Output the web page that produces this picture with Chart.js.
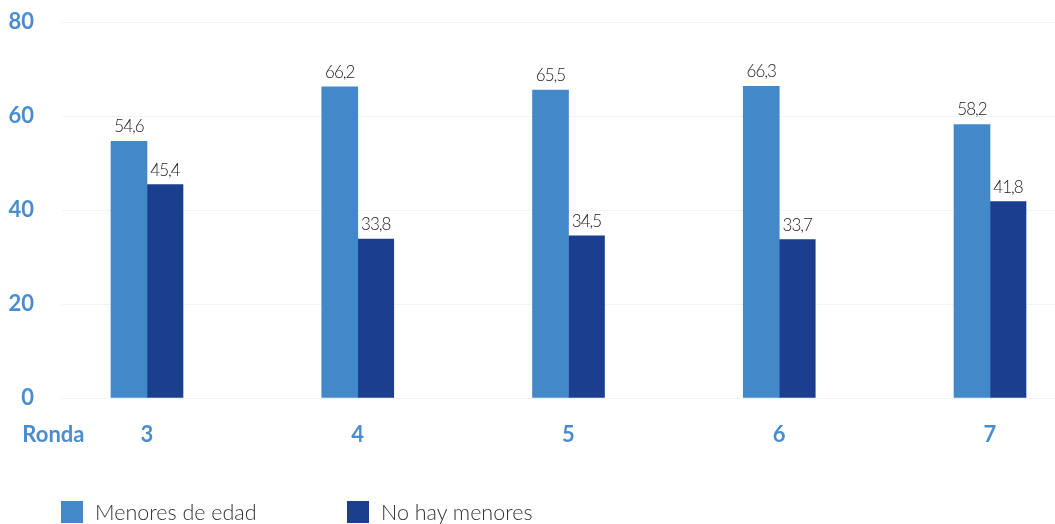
<!DOCTYPE html>
<html lang="es">
<head>
<meta charset="utf-8">
<title>Menores de edad por ronda</title>
<script src="https://cdn.jsdelivr.net/npm/chart.js@4"></script>
<style>
    html, body { margin: 0; padding: 0; background: #fff; }
    #wrap { position: relative; width: 1055px; height: 524px; }
    #leyenda { position: absolute; left: 0; top: 499px; font: 300 21.5px Lato, sans-serif; color: #333; }
    .item { position: absolute; top: 0; display: flex; align-items: center; white-space: nowrap; }
    .item span.caja { width: 22px; height: 22px; margin-right: 12px; }
</style>
</head>
<body>
<div id="wrap">
    <canvas id="grafico"></canvas>
    <div id="leyenda"></div>
</div>
<script>
// datos por ronda
const rondas = [3, 4, 5, 6, 7];
const menoresDeEdad = [54.6, 66.2, 65.5, 66.3, 58.2];
const noHayMenores = [45.4, 33.8, 34.5, 33.7, 41.8];
const etiquetasSeries = ['Menores de edad', 'No hay menores'];
const ticksY = [0, 20, 40, 60, 80];
const tituloEje = 'Ronda';

const azulClaro = '#4388c8';
const azulOscuro = '#1c3e8e';
const azulTexto = '#4a8dcf';

// etiquetas con el valor encima de cada barra
const etiquetasValor = {
    id: 'etiquetasValor',
    afterDatasetsDraw(chart) {
        const ctx = chart.ctx;
        ctx.save();
        ctx.font = '300 17px Lato, sans-serif';
        ctx.letterSpacing = '-1px';
        ctx.fillStyle = '#222';
        ctx.textAlign = 'center';
        ctx.textBaseline = 'alphabetic';
        chart.data.datasets.forEach((ds, i) => {
            chart.getDatasetMeta(i).data.forEach((bar, j) => {
                const txt = ds.data[j].y.toFixed(1).replace('.', ',');
                ctx.fillText(txt, bar.x, bar.y - 9);
            });
        });
        ctx.restore();
    }
};

const ctx = document.getElementById('grafico').getContext('2d');
const grafico = new Chart(ctx, {
    type: 'bar',
    data: {
        datasets: [
            { label: etiquetasSeries[0], data: rondas.map((r, i) => ({ x: r, y: menoresDeEdad[i] })), backgroundColor: azulClaro },
            { label: etiquetasSeries[1], data: rondas.map((r, i) => ({ x: r, y: noHayMenores[i] })), backgroundColor: azulOscuro }
        ]
    },
    options: {
        responsive: true,
        maintainAspectRatio: false,
        animation: false,
        barThickness: 36,
        layout: { padding: { top: 22, right: 0, bottom: 0, left: 0 } },
        plugins: { legend: { display: false }, tooltip: { enabled: false } },
        scales: {
            x: {
                type: 'linear',
                min: 2.5967,
                max: 7.3084,
                bounds: 'data',
                offset: false,
                grid: { display: false, offset: false },
                border: { display: false },
                afterBuildTicks: s => { s.ticks = [{ value: 2.556 }].concat(rondas.map(v => ({ value: v }))); },
                afterFit: s => { s.height = 126; },
                ticks: {
                    autoSkip: false,
                    maxRotation: 0,
                    padding: 16,
                    color: azulTexto,
                    font: { family: 'Lato', size: 22, weight: 'bold' },
                    callback: v => (v < rondas[0] ? tituloEje : String(v))
                }
            },
            y: {
                min: 0,
                max: 80,
                afterBuildTicks: s => { s.ticks = ticksY.map(v => ({ value: v })); },
                afterFit: s => { s.width = 62; s.paddingTop = 0; s.paddingBottom = 0; },
                grid: { color: '#f3f3f3', drawTicks: false },
                border: { display: false },
                ticks: {
                    padding: 28,
                    color: azulTexto,
                    font: { family: 'Lato', size: 22, weight: 'bold' }
                }
            }
        }
    },
    plugins: [etiquetasValor]
});

// leyenda en html
const posLeyenda = [61, 347];
const leyendaEl = document.getElementById('leyenda');
grafico.data.datasets.forEach((ds, i) => {
    const item = document.createElement('div');
    item.className = 'item';
    item.style.left = posLeyenda[i] + 'px';
    item.innerHTML = `<span class="caja" style="background:${ds.backgroundColor}"></span>${ds.label}`;
    leyendaEl.appendChild(item);
});
</script>
</body>
</html>
